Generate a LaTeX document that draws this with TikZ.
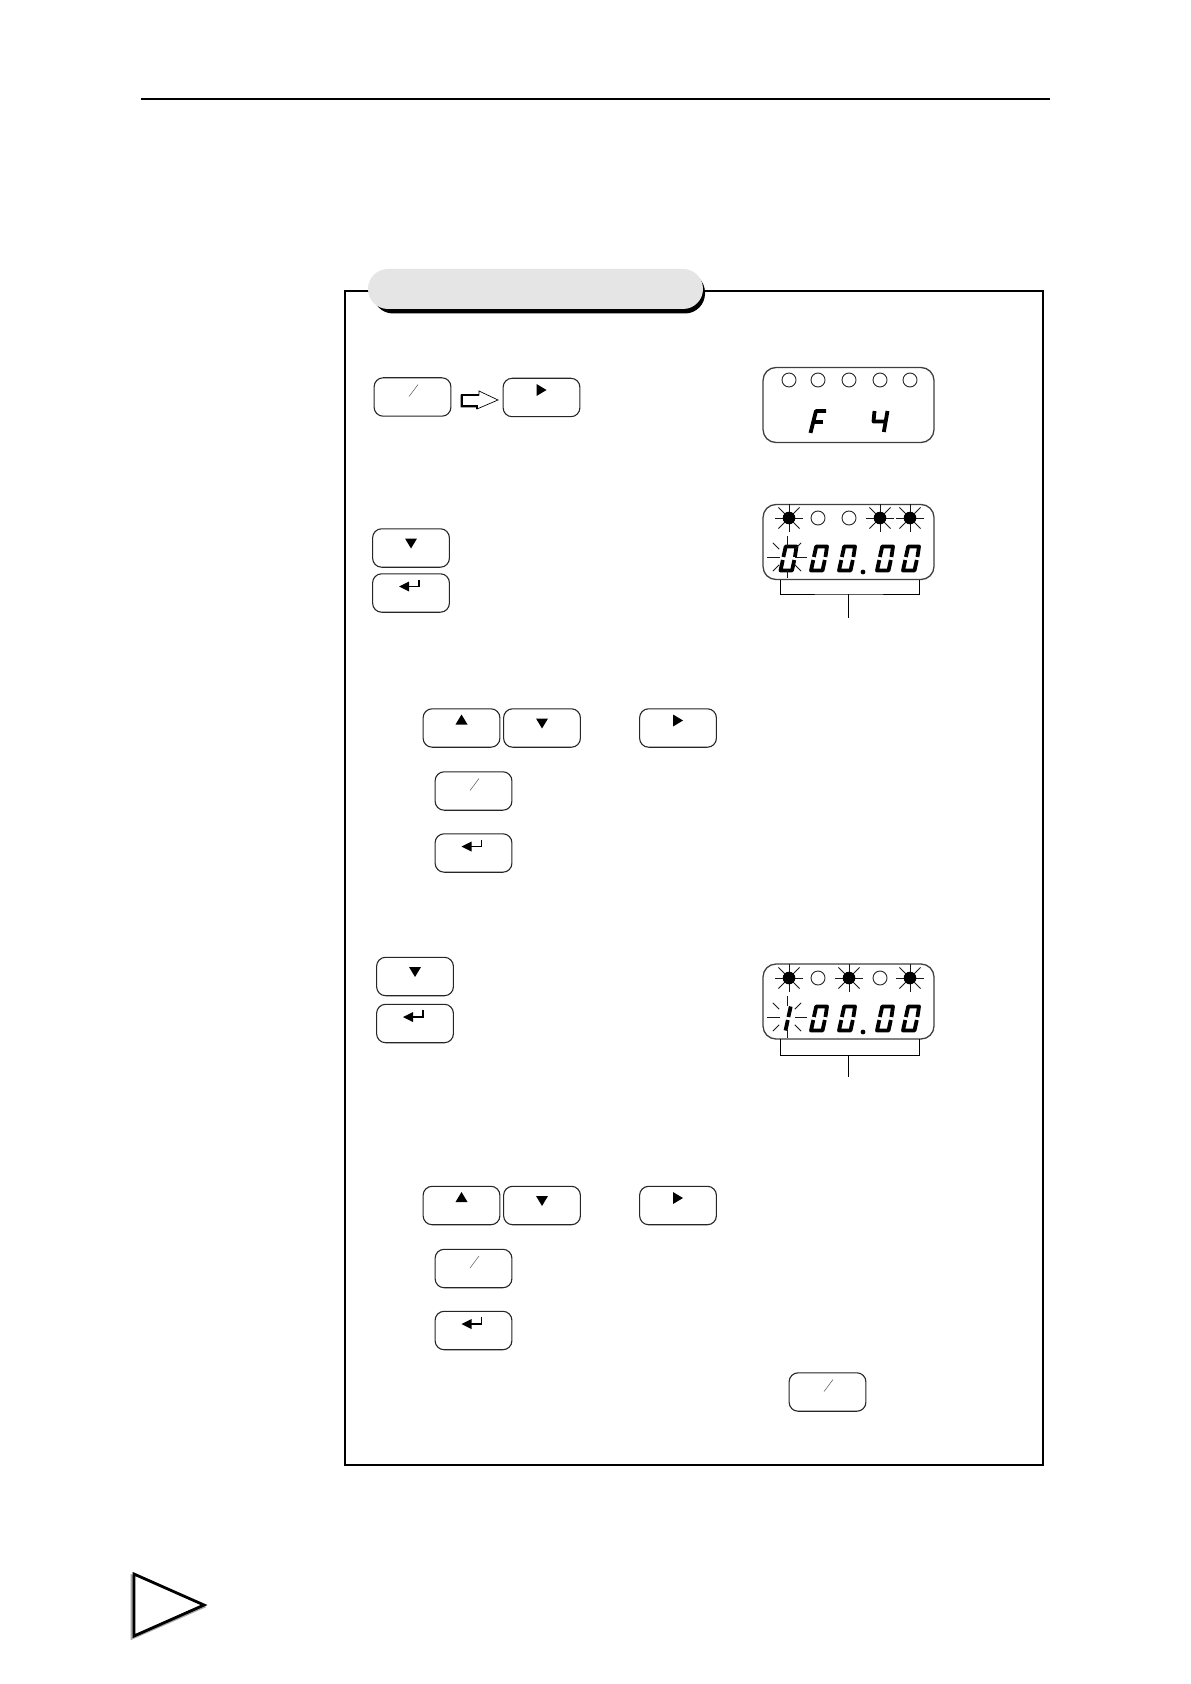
\documentclass[tikz,border=0pt]{standalone}
\tikzset{
  keybox/.style={draw=black!85,line width=0.55pt,rounded corners=4.5pt,fill=white,minimum width=38.4pt,minimum height=19.2pt,inner sep=0pt,outer sep=0pt},
  dispbox/.style={draw=black!75,line width=0.65pt,rounded corners=6.5pt,fill=white,minimum width=85.5pt,minimum height=37.5pt,inner sep=0pt,outer sep=0pt},
  ledoff/.style={circle,draw=black!85,line width=0.45pt,fill=white,minimum size=7pt,inner sep=0pt},
  rayline/.style={line width=0.45pt,black!90},
  segline/.style={line width=1.9pt,black,line join=round},
  brack/.style={line width=0.5pt,black},
  pics/dnkey/.style={code={\fill (-6,-9.5) -- (6,-9.5) -- (0,0.5) -- cycle;}},
  pics/upkey/.style={code={\fill (-6,-3.5) -- (6,-3.5) -- (0,-13.5) -- cycle;}},
  pics/rtkey/.style={code={\fill (-5,-13.5) -- (5,-7.5) -- (-5,-1.5) -- cycle;}},
  pics/slashkey/.style={code={\draw[line width=0.25pt,black!65] (-3.5,-0.5) -- (5.5,-12.5);}},
  pics/entkey/.style={code={\fill (-12,-6.5) -- (-2,-11.5) -- (-2,-1.5) -- cycle; \draw[line width=0.55pt] (-3,-6.5) -- (8,-6.5) -- (8,-13.5);}},
  pics/ledstar/.style={code={
    \foreach \a in {0,90,180,270} \draw[rayline] (\a:6) -- (\a:14);
    \foreach \a in {45,135,225,315} \draw[rayline] (\a:6) -- (\a:15);
    \fill (0,0) circle (6.3);}},
  pics/digstar/.style={code={
    \draw[rayline] (-20,0) -- (-7,0) (8,0) -- (20,0) (0,-21) -- (0,-11) (0,13) -- (0,21);
    \foreach \a in {45,135,225,315} \draw[rayline] (\a:11) -- (\a:20);}},
  pics/digzero/.style={code={
    \draw[segline] (2.3,-10.5) -- (0,0) -- (11.5,0) -- (13.8,-10.5);
    \draw[segline] (2.9,-13.5) -- (5.2,-24) -- (16,-24) -- (14.4,-13.5);}},
  pics/digone/.style={code={
    \draw[segline] (2.3,-10.5) -- (0,0) (2.9,-13.5) -- (5.2,-24);}},
  pics/digF/.style={code={
    \draw[segline] (0,0) -- (5.5,-22) -- (15.5,-22);
    \draw[segline] (2.7,-11) -- (12.5,-11);}},
  pics/digfour/.style={code={
    \draw[segline] (1.5,-21) -- (0.5,-10.5) -- (12,-10.5);
    \draw[segline] (14.5,-21) -- (10.8,0);}}
}
\begin{document}
\begin{tikzpicture}[x=0.5pt,y=-0.5pt]
\path[use as bounding box,fill=white] (0,0) rectangle (1190,1684);
% top rule
\coordinate (ruleL) at (141,99);
\coordinate (ruleR) at (1050,99);
\draw[line width=0.95pt] (ruleL) -- (ruleR);
% frame
\node[draw=black,line width=1pt,minimum width=349pt,minimum height=587pt,inner sep=0pt,outer sep=0pt] (frame) at (694,878) {};
% title pill
\node[fill=black,rounded corners=10pt,minimum width=166pt,minimum height=20.5pt,inner sep=0pt] (pillshadow) at (539,293) {};
\node[fill=black!10,rounded corners=10pt,minimum width=167.5pt,minimum height=20pt,inner sep=0pt] (pill) at (535.5,289) {};
% keys
\node[keybox] (k1) at (412.5,397) {};
\pic at (k1.center) {slashkey};
\node[keybox] (k2) at (541.5,397.5) {};
\pic at (k2.center) {rtkey};
% hollow arrow
\fill[white,draw=black,line width=0.35pt] (461,395) -- (479,395) -- (479,391) -- (498,400) -- (477,409) -- (477,407) -- (461,407) -- cycle;
\draw[line width=1.1pt] (479,395) -- (462,395) -- (462,406) -- (477,406) -- (477,409);
\node[keybox] (k3) at (411,548) {};
\pic at (k3.center) {dnkey};
\node[keybox] (k4) at (411,593) {};
\pic at (k4.center) {entkey};
\node[keybox] (k5) at (461.5,728) {};
\pic at (k5.center) {upkey};
\node[keybox] (k6) at (542,728) {};
\pic at (k6.center) {dnkey};
\node[keybox] (k7) at (678,728) {};
\pic at (k7.center) {rtkey};
\node[keybox] (k8) at (473.5,791) {};
\pic at (k8.center) {slashkey};
\node[keybox] (k9) at (473.5,853) {};
\pic at (k9.center) {entkey};
\node[keybox] (k10) at (415,976.5) {};
\pic at (k10.center) {dnkey};
\node[keybox] (k11) at (415,1023.5) {};
\pic at (k11.center) {entkey};
\node[keybox] (k12) at (461.5,1205.5) {};
\pic at (k12.center) {upkey};
\node[keybox] (k13) at (542,1205.5) {};
\pic at (k13.center) {dnkey};
\node[keybox] (k14) at (678,1205.5) {};
\pic at (k14.center) {rtkey};
\node[keybox] (k15) at (473.5,1268.5) {};
\pic at (k15.center) {slashkey};
\node[keybox] (k16) at (473.5,1330.5) {};
\pic at (k16.center) {entkey};
\node[keybox] (k17) at (827.5,1392) {};
\pic at (k17.center) {slashkey};
% display 1
\node[dispbox] (d1) at (848.5,405) {};
\foreach \i/\x in {a/789,b/818,c/849,d/880,e/910} \node[ledoff] (d1\i) at (\x,380) {};
\pic at (810.5,433) {digF};
\pic at (873,432) {digfour};
% display 2
\node[dispbox] (d2) at (848.5,542) {};
\pic at (789,518) {ledstar};
\node[ledoff] (d2b) at (818,518) {};
\node[ledoff] (d2c) at (849,518) {};
\pic at (880,518) {ledstar};
\pic at (910,518) {ledstar};
\pic at (780.5,570.5) {digzero};
\pic at (811,570.5) {digzero};
\pic at (839,570.5) {digzero};
\fill (863,572) circle (2.4);
\pic at (877,570.5) {digzero};
\pic at (903,570.5) {digzero};
\pic at (787,557) {digstar};
\coordinate (b2l) at (780,580);
\coordinate (b2r) at (919,580);
\coordinate (b2m) at (848,594);
\coordinate (b2e) at (848,618);
\draw[brack] (b2l) |- (b2m) -| (b2r);
\draw[brack] (b2m) -- (b2e);
% display 3
\node[dispbox] (d3) at (848.5,1001.5) {};
\pic at (789,978) {ledstar};
\node[ledoff] (d3b) at (818,978) {};
\pic at (849,978) {ledstar};
\node[ledoff] (d3d) at (880,978) {};
\pic at (910,978) {ledstar};
\pic at (785.5,1030.5) {digone};
\pic at (811,1030.5) {digzero};
\pic at (839,1030.5) {digzero};
\fill (863,1032) circle (2.4);
\pic at (877,1030.5) {digzero};
\pic at (903,1030.5) {digzero};
\pic at (787,1017) {digstar};
\coordinate (b3l) at (780,1039);
\coordinate (b3r) at (919,1039);
\coordinate (b3m) at (848,1055);
\coordinate (b3e) at (848,1077);
\draw[brack] (b3l) |- (b3m) -| (b3r);
\draw[brack] (b3m) -- (b3e);
% corner triangle
\draw[line width=1.4pt,black!35,line join=miter] (132,1576) -- (203,1607) -- (132,1638) -- cycle;
\draw[line width=1.4pt,black,line join=miter,fill=white] (134,1574) -- (204,1605) -- (134,1636) -- cycle;
\end{tikzpicture}
\end{document}
